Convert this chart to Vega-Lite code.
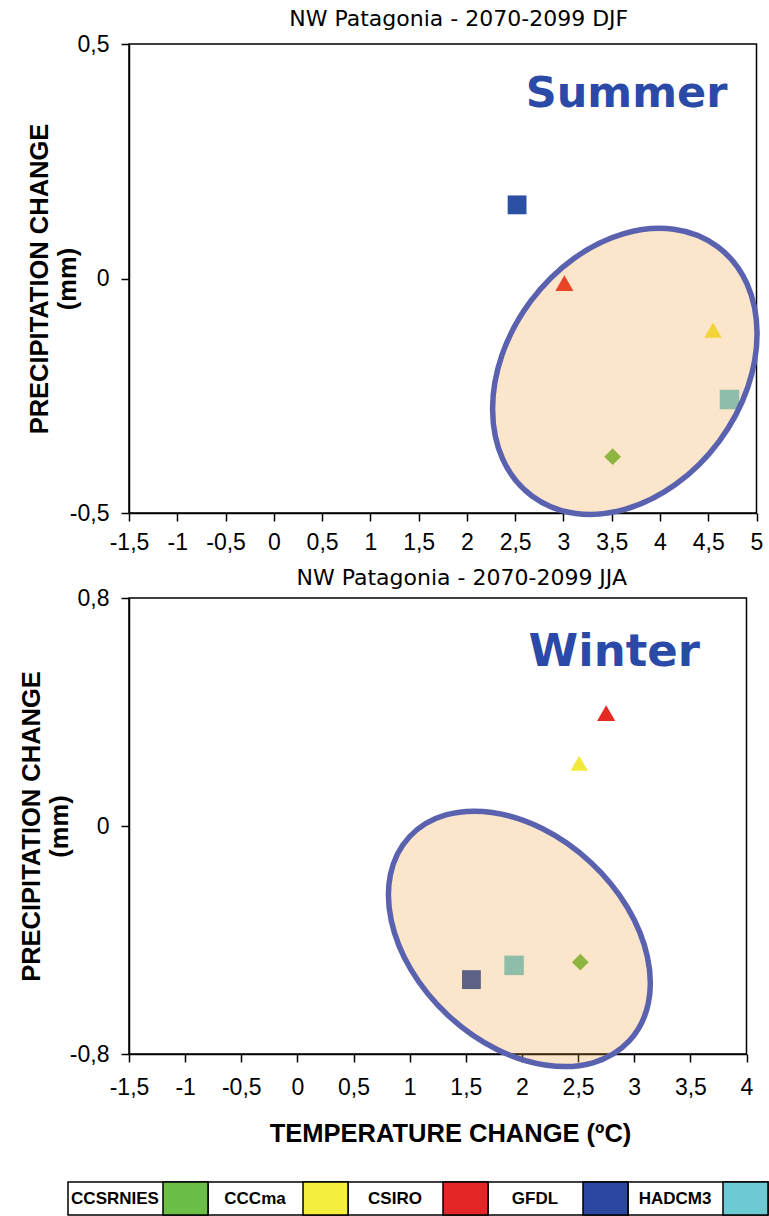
{
  "$schema": "https://vega.github.io/schema/vega-lite/v6.json",
  "padding": {"left": 18, "top": 7, "right": 0, "bottom": 0},
  "background": "white",
  "config": {
    "locale": {"number": {"decimal": ",", "thousands": ".", "grouping": [3], "currency": ["", ""], "minus": "-"}},
    "view": {"stroke": "black", "strokeWidth": 1.5},
    "axis": {"grid": false, "domainColor": "black", "domainWidth": 1.5, "tickColor": "black", "tickWidth": 1.5, "tickSize": 8, "labelColor": "black", "labelFont": "Liberation Sans", "labelFontSize": 23, "labelPadding": 10, "titleFont": "Liberation Sans", "titleFontWeight": "bold", "titleFontSize": 25.5, "titleColor": "black", "titleLineHeight": 28},
    "title": {"font": "DejaVu Sans", "fontSize": 22, "fontWeight": "normal", "color": "black"}
  },
  "datasets": {
    "djf": [
      {"model": "GFDL", "temp": 2.52, "precip": 0.157},
      {"model": "CSIRO", "temp": 3.01, "precip": -0.01},
      {"model": "CCCma", "temp": 4.55, "precip": -0.11},
      {"model": "HADCM3", "temp": 4.72, "precip": -0.258},
      {"model": "CCSRNIES", "temp": 3.51, "precip": -0.38}
    ],
    "jja": [
      {"model": "CSIRO", "temp": 2.75, "precip": 0.396},
      {"model": "CCCma", "temp": 2.51, "precip": 0.22},
      {"model": "GFDL", "temp": 1.55, "precip": -0.539},
      {"model": "HADCM3", "temp": 1.93, "precip": -0.489},
      {"model": "CCSRNIES", "temp": 2.52, "precip": -0.478}
    ],
    "models": [
      {"model": "CCSRNIES"},
      {"model": "CCCma"},
      {"model": "CSIRO"},
      {"model": "GFDL"},
      {"model": "HADCM3"}
    ]
  },
  "spacing": 33,
  "vconcat": [
    {
      "spacing": 11,
      "vconcat": [
        {
          "width": 627.5,
          "height": 469,
          "title": {"text": "NW Patagonia -  2070-2099 DJF", "dx": 16, "offset": 2},
          "layer": [
            {
              "mark": {"type": "rule", "color": "#3b5bb5", "strokeWidth": 1.5},
              "encoding": {"x": {"datum": 0, "type": "quantitative", "scale": {"domain": [-1.5, 5], "nice": false, "zero": false}}}
            },
            {
              "mark": {"type": "rule", "color": "#3b5bb5", "strokeWidth": 1.5},
              "encoding": {"y": {"datum": 0, "type": "quantitative", "scale": {"domain": [-0.5, 0.5], "nice": false, "zero": false}}}
            },
            {
              "data": {"name": "djf"},
              "mark": {"type": "point", "filled": true, "opacity": 1},
              "encoding": {
                "x": {"field": "temp", "type": "quantitative", "scale": {"domain": [-1.5, 5], "nice": false, "zero": false},
                      "axis": {"values": [-1.5, -1, -0.5, 0, 0.5, 1, 1.5, 2, 2.5, 3, 3.5, 4, 4.5, 5], "format": ".1~f", "title": null, "labelFlush": false}},
                "y": {"field": "precip", "type": "quantitative", "scale": {"domain": [-0.5, 0.5], "nice": false, "zero": false},
                      "axis": {"values": [-0.5, 0, 0.5], "format": ".1~f", "title": ["PRECIPITATION CHANGE", "(mm)"], "titlePadding": -11, "labelFlush": false, "labelPadding": 12}},
                "color": {"field": "model", "type": "nominal", "legend": null,
                          "scale": {"domain": ["CCSRNIES", "CCCma", "CSIRO", "GFDL", "HADCM3"], "range": ["#6cbf46", "#f4e83a", "#e52a22", "#2b4fa3", "#6ecad2"]}},
                "shape": {"field": "model", "type": "nominal", "legend": null,
                          "scale": {"domain": ["CCSRNIES", "CCCma", "CSIRO", "GFDL", "HADCM3"], "range": ["diamond", "triangle-up", "triangle-up", "square", "square"]}},
                "size": {"field": "model", "type": "nominal", "legend": null,
                         "scale": {"domain": ["CCSRNIES", "CCCma", "CSIRO", "GFDL", "HADCM3"], "range": [280, 380, 380, 240, 220]}}
              }
            },
            {
              "data": {"values": [{"temp": 3.636, "precip": -0.198}]},
              "mark": {"type": "point", "filled": true, "opacity": 1,
                       "shape": "M0.9287,-1.246C1.4486,-0.8585,1.4542,0.0134,0.9413,0.7016C0.4284,1.3898,-0.4088,1.6335,-0.9287,1.246C-1.4486,0.8585,-1.4542,-0.0134,-0.9413,-0.7016C-0.4284,-1.3898,0.4088,-1.6335,0.9287,-1.246Z",
                       "size": 40000, "fill": "#ee9830", "fillOpacity": 0.25, "stroke": "#5a62b0", "strokeWidth": 5.5, "strokeOpacity": 1},
              "encoding": {
                "x": {"field": "temp", "type": "quantitative", "scale": {"domain": [-1.5, 5], "nice": false, "zero": false}},
                "y": {"field": "precip", "type": "quantitative", "scale": {"domain": [-0.5, 0.5], "nice": false, "zero": false}}
              }
            },
            {
              "data": {"values": [{"temp": 3.654, "precip": 0.394, "label": "Summer"}]},
              "mark": {"type": "text", "font": "DejaVu Sans", "fontWeight": "bold", "fontSize": 43, "color": "#2b4aa8"},
              "encoding": {
                "x": {"field": "temp", "type": "quantitative", "scale": {"domain": [-1.5, 5], "nice": false, "zero": false}},
                "y": {"field": "precip", "type": "quantitative", "scale": {"domain": [-0.5, 0.5], "nice": false, "zero": false}},
                "text": {"field": "label"}
              }
            }
          ]
        },
        {
          "width": 617.5,
          "height": 456,
          "title": {"text": "NW Patagonia -  2070-2099 JJA", "dx": 24, "offset": -3},
          "layer": [
            {
              "mark": {"type": "rule", "color": "#3b5bb5", "strokeWidth": 1.5},
              "encoding": {"x": {"datum": 0, "type": "quantitative", "scale": {"domain": [-1.5, 4], "nice": false, "zero": false}}}
            },
            {
              "mark": {"type": "rule", "color": "#3b5bb5", "strokeWidth": 1.5},
              "encoding": {"y": {"datum": 0, "type": "quantitative", "scale": {"domain": [-0.8, 0.8], "nice": false, "zero": false}}}
            },
            {
              "data": {"name": "jja"},
              "mark": {"type": "point", "filled": true, "opacity": 1},
              "encoding": {
                "x": {"field": "temp", "type": "quantitative", "scale": {"domain": [-1.5, 4], "nice": false, "zero": false},
                      "axis": {"values": [-1.5, -1, -0.5, 0, 0.5, 1, 1.5, 2, 2.5, 3, 3.5, 4], "format": ".1~f", "title": "TEMPERATURE CHANGE (ºC)", "titlePadding": 22, "titleX": 321, "labelFlush": false, "labelPadding": 14}},
                "y": {"field": "precip", "type": "quantitative", "scale": {"domain": [-0.8, 0.8], "nice": false, "zero": false},
                      "axis": {"values": [-0.8, 0, 0.8], "format": ".1~f", "title": ["PRECIPITATION CHANGE", "(mm)"], "titlePadding": -3, "labelFlush": false, "labelPadding": 12}},
                "color": {"field": "model", "type": "nominal", "legend": null,
                          "scale": {"domain": ["CCSRNIES", "CCCma", "CSIRO", "GFDL", "HADCM3"], "range": ["#6cbf46", "#f4e83a", "#e52a22", "#2b479f", "#6ecad2"]}},
                "shape": {"field": "model", "type": "nominal", "legend": null,
                          "scale": {"domain": ["CCSRNIES", "CCCma", "CSIRO", "GFDL", "HADCM3"], "range": ["diamond", "triangle-up", "triangle-up", "square", "square"]}},
                "size": {"field": "model", "type": "nominal", "legend": null,
                         "scale": {"domain": ["CCSRNIES", "CCCma", "CSIRO", "GFDL", "HADCM3"], "range": [280, 380, 380, 280, 230]}}
              }
            },
            {
              "data": {"values": [{"temp": 1.977, "precip": -0.396}]},
              "mark": {"type": "point", "filled": true, "opacity": 1,
                       "shape": "M1.0988,1.0211C0.7056,1.4443,-0.1051,1.3301,-0.712,0.7662C-1.3189,0.2023,-1.492,-0.5979,-1.0988,-1.0211C-0.7056,-1.4443,0.1051,-1.3301,0.712,-0.7662C1.3189,-0.2023,1.492,0.5979,1.0988,1.0211Z",
                       "size": 40000, "fill": "#ee9830", "fillOpacity": 0.25, "stroke": "#5a62b0", "strokeWidth": 5.5, "strokeOpacity": 1},
              "encoding": {
                "x": {"field": "temp", "type": "quantitative", "scale": {"domain": [-1.5, 4], "nice": false, "zero": false}},
                "y": {"field": "precip", "type": "quantitative", "scale": {"domain": [-0.8, 0.8], "nice": false, "zero": false}}
              }
            },
            {
              "data": {"values": [{"temp": 2.822, "precip": 0.612, "label": "Winter"}]},
              "mark": {"type": "text", "font": "DejaVu Sans", "fontWeight": "bold", "fontSize": 45, "color": "#2b4aa8"},
              "encoding": {
                "x": {"field": "temp", "type": "quantitative", "scale": {"domain": [-1.5, 4], "nice": false, "zero": false}},
                "y": {"field": "precip", "type": "quantitative", "scale": {"domain": [-0.8, 0.8], "nice": false, "zero": false}},
                "text": {"field": "label"}
              }
            }
          ]
        }
      ]
    },
    {
      "width": 639,
      "height": 33,
      "view": {"stroke": null},
      "data": {"name": "models"},
      "layer": [
        {
          "mark": {"type": "rect", "fill": "white", "stroke": "black", "strokeWidth": 1.5},
          "encoding": {"x": {"field": "model", "type": "nominal", "sort": null, "axis": null, "scale": {"paddingInner": 0, "paddingOuter": 0, "range": [-61, 639]}}}
        },
        {
          "mark": {"type": "rect", "width": 45, "xOffset": 47.5, "stroke": "black", "strokeWidth": 1.5},
          "encoding": {
            "x": {"field": "model", "type": "nominal", "sort": null, "axis": null, "scale": {"paddingInner": 0, "paddingOuter": 0, "range": [-61, 639]}},
            "fill": {"field": "model", "type": "nominal", "legend": null,
                     "scale": {"domain": ["CCSRNIES", "CCCma", "CSIRO", "GFDL", "HADCM3"], "range": ["#6cbf46", "#f4ee3c", "#e52629", "#2b479f", "#6ecad2"]}}
          }
        },
        {
          "mark": {"type": "text", "font": "Liberation Sans", "fontWeight": "bold", "fontSize": 17, "dx": -23, "color": "black"},
          "encoding": {
            "x": {"field": "model", "type": "nominal", "sort": null, "axis": null, "scale": {"paddingInner": 0, "paddingOuter": 0, "range": [-61, 639]}},
            "text": {"field": "model"}
          }
        }
      ]
    }
  ]
}
